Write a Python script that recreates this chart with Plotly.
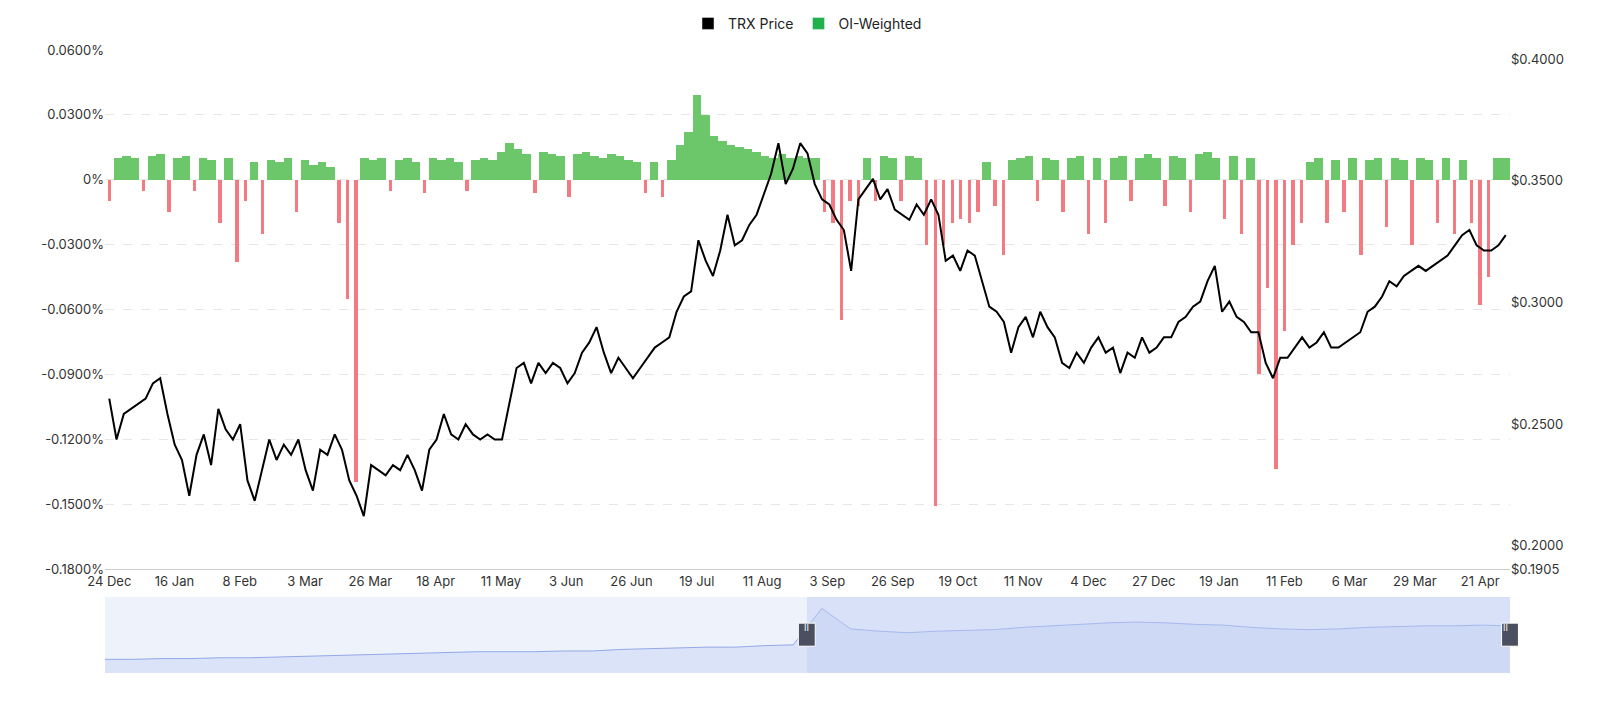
import plotly.graph_objects as go
import pandas as pd
import numpy as np

start = pd.Timestamp("2024-12-24")
end_day = 492

price = [0.2605,0.2437,0.2542,0.2563,0.2584,0.2605,0.2668,0.2689,0.2542,0.2416,0.2353,0.2206,0.2374,0.2458,0.2332,0.2563,
0.2479,0.2437,0.2500,0.2269,0.2185,0.2311,0.2437,0.2353,0.2416,0.2374,0.2437,0.2311,0.2227,0.2395,0.2374,0.2458,0.2395,
0.2269,0.2206,0.2122,0.2332,0.2311,0.2290,0.2332,0.2311,0.2374,0.2311,0.2227,0.2395,0.2437,0.2542,0.2458,0.2437,0.2500,
0.2458,0.2437,0.2458,0.2437,0.2437,0.2584,0.2731,0.2752,0.2668,0.2752,0.2710,0.2752,0.2731,0.2668,0.2710,0.2794,0.2836,
0.2899,0.2794,0.2710,0.2773,0.2731,0.2689,0.2731,0.2773,0.2815,0.2836,0.2857,0.2962,0.3025,0.3046,0.3256,0.3172,0.3109,
0.3214,0.3361,0.3235,0.3256,0.3319,0.3361,0.3445,0.3529,0.3655,0.3487,0.3550,0.3655,0.3613,0.3487,0.3424,0.3403,0.3340,
0.3298,0.3130,0.3424,0.3466,0.3508,0.3424,0.3466,0.3382,0.3361,0.3340,0.3403,0.3361,0.3424,0.3361,0.3172,0.3193,0.3130,
0.3214,0.3193,0.3088,0.2983,0.2962,0.2920,0.2794,0.2899,0.2941,0.2857,0.2962,0.2899,0.2857,0.2752,0.2731,0.2794,0.2752,
0.2815,0.2857,0.2794,0.2815,0.2710,0.2794,0.2773,0.2857,0.2794,0.2815,0.2857,0.2857,0.2920,0.2941,0.2983,0.3004,0.3088,
0.3151,0.2962,0.3004,0.2941,0.2920,0.2878,0.2878,0.2752,0.2689,0.2773,0.2773,0.2815,0.2857,0.2815,0.2836,0.2878,0.2815,
0.2815,0.2836,0.2857,0.2878,0.2962,0.2983,0.3025,0.3088,0.3067,0.3109,0.3130,0.3151,0.3130,0.3151,0.3172,0.3193,0.3235,
0.3277,0.3298,0.3235,0.3214,0.3214,0.3235,0.3277]

# funding rate (%) every 3 days
funding = [
-0.010,0.010,0.011,0.010,-0.005,0.011,0.012,-0.015,0.010,0.011,-0.005,0.010,0.009,-0.020,0.010,-0.038,
-0.010,0.008,-0.025,0.009,0.008,0.010,-0.015,0.009,0.007,0.008,0.006,-0.020,-0.055,-0.140,
0.010,0.009,0.010,-0.005,0.009,0.010,0.008,-0.006,0.010,0.009,0.010,0.008,-0.005,0.009,0.010,0.009,
0.013,0.017,0.014,0.012,-0.006,0.013,0.012,0.011,-0.008,0.012,0.013,0.011,0.010,0.012,0.011,
0.009,0.008,-0.006,0.008,-0.008,0.009,
0.016,0.022,0.039,0.030,0.020,0.018,0.016,0.015,0.014,0.013,
0.011,0.010,0.012,0.010,0.011,0.010,0.010,
-0.015,-0.020,-0.065,-0.010,-0.012,
0.010,-0.010,0.011,0.010,-0.010,0.011,0.010,
-0.030,-0.151,-0.030,-0.020,-0.018,
-0.020,-0.015,0.008,-0.012,-0.035,0.009,
0.010,0.011,-0.010,0.010,0.009,-0.015,0.010,0.011,-0.025,0.010,-0.020,0.010,0.011,-0.010,0.010,0.012,
0.010,-0.012,0.011,0.010,-0.015,0.012,0.013,0.010,-0.018,0.011,-0.025,0.010,
-0.090,-0.050,-0.134,-0.070,-0.030,-0.020,
0.008,0.010,-0.020,0.009,-0.015,0.010,-0.035,0.009,0.010,-0.022,0.010,0.009,-0.030,0.010,0.009,-0.020,
0.010,-0.025,0.009,-0.020,-0.058,-0.045,0.010,0.010]

overview = [0.18,0.18,0.19,0.19,0.20,0.20,0.21,0.22,0.23,0.24,0.25,0.26,0.27,0.28,0.28,0.28,0.29,0.29,
0.31,0.32,0.33,0.34,0.34,0.36,0.37,0.85,0.58,0.55,0.53,0.55,0.56,0.57,0.60,0.62,0.64,0.66,0.67,
0.66,0.64,0.63,0.60,0.58,0.57,0.58,0.60,0.61,0.62,0.62,0.63,0.62]

tick_dates = [start + pd.Timedelta(days=23*k) for k in range(22)]
left_ticks = [0.06,0.03,0,-0.03,-0.06,-0.09,-0.12,-0.15,-0.18]
right_ticks = [0.40,0.35,0.30,0.25,0.20,0.1905]

pd_dates = start + pd.to_timedelta(np.linspace(0, end_day, len(price)), unit="D")
f_dates = start + pd.to_timedelta(np.arange(len(funding))*3, unit="D")
o_dates = start + pd.to_timedelta(np.linspace(0, end_day, len(overview)), unit="D")
DAY = 86400000

fig = go.Figure()
fig.add_trace(go.Bar(x=f_dates, y=funding, name="OI-Weighted",
    width=[3*DAY if v >= 0 else 1.2*DAY for v in funding],
    marker=dict(color=["#6cc76b" if v >= 0 else "#f47a82" for v in funding], line=dict(width=0)),
    showlegend=False))
fig.add_trace(go.Bar(x=[None], y=[None], name="OI-Weighted", marker_color="#22b04b"))
fig.add_trace(go.Bar(x=[None], y=[None], name="TRX Price", marker_color="#000000"))
fig.add_trace(go.Scatter(x=pd_dates, y=price, name="TRX Price", yaxis="y2", mode="lines",
    line=dict(color="#000000", width=2), showlegend=False))
fig.add_trace(go.Scatter(x=o_dates, y=overview, xaxis="x2", yaxis="y3", mode="lines", fill="tozeroy",
    line=dict(color="#93a9e8", width=1), fillcolor="rgba(200,212,245,0.5)", showlegend=False))

fig.update_layout(
    width=1584, height=697, paper_bgcolor="white", plot_bgcolor="white",
    margin=dict(l=97, r=82, t=42, b=32, autoexpand=False),
    font=dict(family="Inter", size=13, color="#333"),
    bargap=0, barmode="overlay",
    legend=dict(orientation="h", x=0.5, xanchor="center", y=1.042, yanchor="middle",
                traceorder="reversed", font=dict(size=14, color="#222")),
    xaxis=dict(domain=[0,1], range=[start - pd.Timedelta(days=1.5), start + pd.Timedelta(days=493.5)],
               tickvals=tick_dates, tickformat="%-d %b", showgrid=False, anchor="y",
               showline=True, linecolor="#ccc", ticks=""),
    yaxis=dict(domain=[0.167,1], range=[-0.18,0.06], tickvals=left_ticks,
               ticktext=["0%" if v == 0 else f"{v:.4f}%" for v in left_ticks],
               gridcolor="#e6e6e6", griddash="dash", zeroline=False),
    yaxis2=dict(overlaying="y", side="right", range=[0.1905,0.4038], tickvals=right_ticks,
                ticktext=[f"${v:.4f}" for v in right_ticks], showgrid=False, zeroline=False),
    xaxis2=dict(domain=[0,1], anchor="y3", visible=False, range=[start, start + pd.Timedelta(days=end_day)]),
    yaxis3=dict(domain=[0,0.122], range=[0,1], visible=False),
    shapes=[
        dict(type="rect", xref="paper", yref="paper", x0=0, x1=1, y0=0, y1=0.122,
             fillcolor="rgba(230,236,250,0.7)", line=dict(width=0), layer="below"),
        dict(type="rect", xref="paper", yref="paper", x0=0.4997, x1=1, y0=0, y1=0.122,
             fillcolor="rgba(190,205,245,0.45)", line=dict(width=0)),
        dict(type="rect", xref="paper", yref="paper", x0=0.4935, x1=0.5055, y0=0.043, y1=0.08,
             fillcolor="#4a5060", line=dict(color="white", width=1)),
        dict(type="rect", xref="paper", yref="paper", x0=0.994, x1=1.006, y0=0.043, y1=0.08,
             fillcolor="#4a5060", line=dict(color="white", width=1)),
    ],
    annotations=[
        dict(xref="paper", yref="paper", x=0.4995, y=0.0615, text="II", showarrow=False,
             font=dict(color="white", size=9)),
        dict(xref="paper", yref="paper", x=1.0, y=0.0615, text="II", showarrow=False,
             font=dict(color="white", size=9)),
    ],
)
fig.write_html("out.html")
